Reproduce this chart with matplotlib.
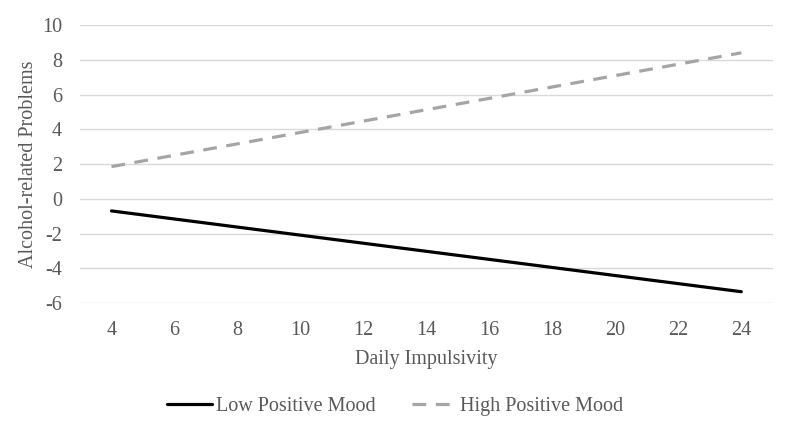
import matplotlib.pyplot as plt

# endpoints of the two simple-slope lines
impulsivity = [4, 24]
low_mood = [-0.7, -5.35]
high_mood = [1.85, 8.4]
x_ticks = list(range(4, 25, 2))
y_ticks = list(range(-6, 11, 2))

plt.rcParams['font.family'] = ['Liberation Serif', 'DejaVu Serif']
plt.rcParams['axes.unicode_minus'] = False
grey_text = '#595959'

fig = plt.figure(figsize=(8, 4.32), dpi=100)
ax = fig.add_axes([0.1, 0.2986, 0.866, 0.6435])

ax.plot(impulsivity, low_mood, color='black', lw=2.3, solid_capstyle='round',
        label='Low Positive Mood')
ax.plot(impulsivity, high_mood, color='#a5a5a5', lw=2.3, ls=(0, (4.3, 3)),
        label='High Positive Mood')

ax.set_xlim(3, 25)
ax.set_ylim(-6, 10)
ax.set_xticks(x_ticks)
ax.set_yticks(y_ticks)
ax.grid(axis='y', color='#d9d9d9', lw=1)
ax.set_axisbelow(True)
for s in ax.spines.values():
    s.set_visible(False)
ax.tick_params(length=0, labelsize=14.5, labelcolor=grey_text, pad=13)
ax.tick_params(axis='y', pad=13)

ax.set_xlabel('Daily Impulsivity', fontsize=14.5, color=grey_text, labelpad=7)
ax.set_ylabel('Alcohol-related Problems', fontsize=14.5, color=grey_text, labelpad=3)

leg = fig.legend(loc='center', bbox_to_anchor=(0.494, 0.058), ncol=2, frameon=False,
                 fontsize=14.5, handlelength=2.2, columnspacing=1.8, handletextpad=0.2)
for t in leg.get_texts():
    t.set_color(grey_text)

fig.savefig('out.png')
